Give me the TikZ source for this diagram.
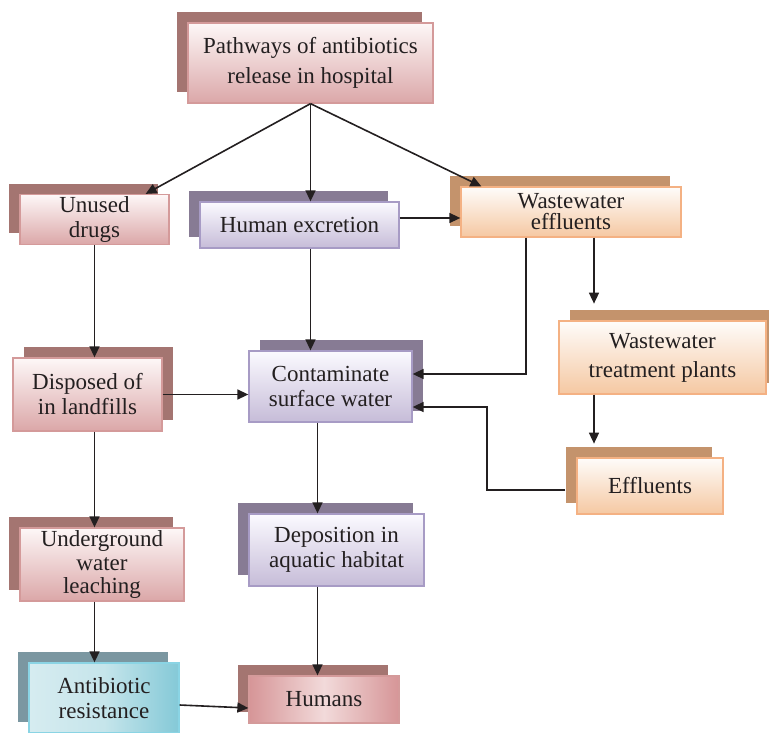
\documentclass[tikz,border=0pt]{standalone}
\usepackage{fontspec}
\setmainfont{Liberation Serif}
\usepackage{xcolor}
\usetikzlibrary{arrows.meta,shadows}

\definecolor{txtcol}{HTML}{231F20}
\definecolor{pinkline}{HTML}{D49A9A}
\definecolor{pinktop}{HTML}{FDF7F7}
\definecolor{pinkbot}{HTML}{DBA7A8}
\definecolor{pinkshd}{HTML}{A47571}
\definecolor{purpline}{HTML}{A79BC5}
\definecolor{purptop}{HTML}{FBFAFF}
\definecolor{purpbot}{HTML}{C6BCD8}
\definecolor{purpshd}{HTML}{877B94}
\definecolor{orgline}{HTML}{F4B183}
\definecolor{orgtop}{HTML}{FEFCFA}
\definecolor{orgbot}{HTML}{F5C8A2}
\definecolor{orgshd}{HTML}{C4936C}
\definecolor{tealline}{HTML}{8AD4E4}
\definecolor{teallight}{HTML}{D6ECF0}
\definecolor{tealdark}{HTML}{84C9D7}
\definecolor{tealshd}{HTML}{7B97A1}
\definecolor{humdark}{HTML}{D69597}
\definecolor{humlight}{HTML}{F2DADA}

\begin{document}
\begin{tikzpicture}[
    x=1pt, y=-1pt,
    box/.style={rectangle, inner sep=2pt, align=center, line width=1.3pt, text=txtcol, font=\fontsize{23}{25}\selectfont},
    pinkbox/.style={box, draw=pinkline, top color=pinktop, bottom color=pinkbot},
    purpbox/.style={box, draw=purpline, top color=purptop, bottom color=purpbot},
    orgbox/.style={box, draw=orgline, top color=orgtop, bottom color=orgbot},
    tealbox/.style={box, draw=tealline, left color=teallight, right color=tealdark, middle color=teallight!80!tealdark},
    humbox/.style={box, draw=pinkline, left color=humdark, right color=humdark, middle color=humlight},
    lshd/.style={general shadow={fill=#1, shadow xshift=-11pt, shadow yshift=11pt}},
    rshd/.style={general shadow={fill=#1, shadow xshift=11pt, shadow yshift=11pt}},
    arrow/.style={-{Triangle[length=11pt,width=10pt]}, line width=1.6pt, draw=txtcol}
]
\useasboundingbox (0,0) rectangle (769,733);

% Top of the tree
\node[pinkbox, lshd=pinkshd, minimum width=245pt, minimum height=80pt, font=\fontsize{23}{30}\selectfont] (src) at (310.5,63) {Pathways of antibiotics\\release in hospital};

% First row
\node[pinkbox, lshd=pinkshd, minimum width=149pt, minimum height=49pt] (unused) at (94.5,219.5) {Unused\\drugs};
\node[purpbox, lshd=purpshd, minimum width=199pt, minimum height=46pt] (excr) at (299.5,225) {Human excretion};
\node[orgbox, lshd=orgshd, minimum width=220pt, minimum height=50pt, font=\fontsize{23}{21}\selectfont] (weff) at (571,212) {Wastewater\\effluents};

% Middle
\node[orgbox, rshd=orgshd, minimum width=207pt, minimum height=73pt, font=\fontsize{23}{29}\selectfont] (wtp) at (662.5,357.5) {Wastewater\\treatment plants};
\node[purpbox, rshd=purpshd, minimum width=163pt, minimum height=71pt] (surf) at (330.5,386.5) {Contaminate\\surface water};
\node[pinkbox, rshd=pinkshd, minimum width=149pt, minimum height=73pt] (landf) at (87.5,394.5) {Disposed of\\in landfills};
\node[orgbox, lshd=orgshd, minimum width=146pt, minimum height=56pt] (effl) at (650,486) {Effluents};

% Lower rows
\node[pinkbox, lshd=pinkshd, minimum width=164pt, minimum height=73pt, font=\fontsize{23}{23.5}\selectfont] (leach) at (102,564.5) {Underground\\water\\leaching};
\node[purpbox, lshd=purpshd, minimum width=175pt, minimum height=72pt] (depo) at (336.5,550) {Deposition in\\aquatic habitat};
\node[tealbox, lshd=tealshd, minimum width=150pt, minimum height=70pt] (resist) at (104,698) {Antibiotic\\resistance};
\node[humbox, lshd=pinkshd, minimum width=150pt, minimum height=47pt] (hmn) at (324,699.5) {Humans};

% Bend points
\coordinate (bend) at (487,407);

% Connectors
\draw[arrow] (src.south) -- ([xshift=-24pt]unused.north east);
\draw[arrow] (src.south) -- (src.south |- excr.north);
\draw[arrow] (src.south) -- ([xshift=21pt]weff.north west);
\draw[arrow] ([yshift=7pt]excr.east) -- ([yshift=7pt]excr.east -| weff.west);
\draw[arrow] (unused.south) -- (unused.south |- landf.north);
\draw[arrow] (src.south |- excr.south) -- (src.south |- surf.north);
\draw[arrow] ([xshift=-45pt]weff.south) |- ([yshift=12.5pt]surf.east);
\draw[arrow] ([xshift=23pt]weff.south) -- ++(0,66);
\draw[arrow] ([xshift=-68.5pt]wtp.south) -- ++(0,49);
\draw[arrow] ([xshift=-11pt,yshift=-4pt]effl.west) -| (bend) -- (bend -| surf.east);
\draw[arrow] (landf.east) -- (landf.east -| surf.west);
\draw[arrow] (unused.south |- landf.south) -- (unused.south |- leach.north);
\draw[arrow] (unused.south |- leach.south) -- (unused.south |- resist.north);
\draw[arrow] ([xshift=-13pt]surf.south) -- ([xshift=-13pt]surf.south |- depo.north);
\draw[arrow] ([xshift=-19pt]depo.south) -- ([xshift=-19pt]depo.south |- hmn.north);
\draw[arrow] ([yshift=-7pt]resist.east) -- ([yshift=-8.5pt]hmn.west);

\end{tikzpicture}
\end{document}
